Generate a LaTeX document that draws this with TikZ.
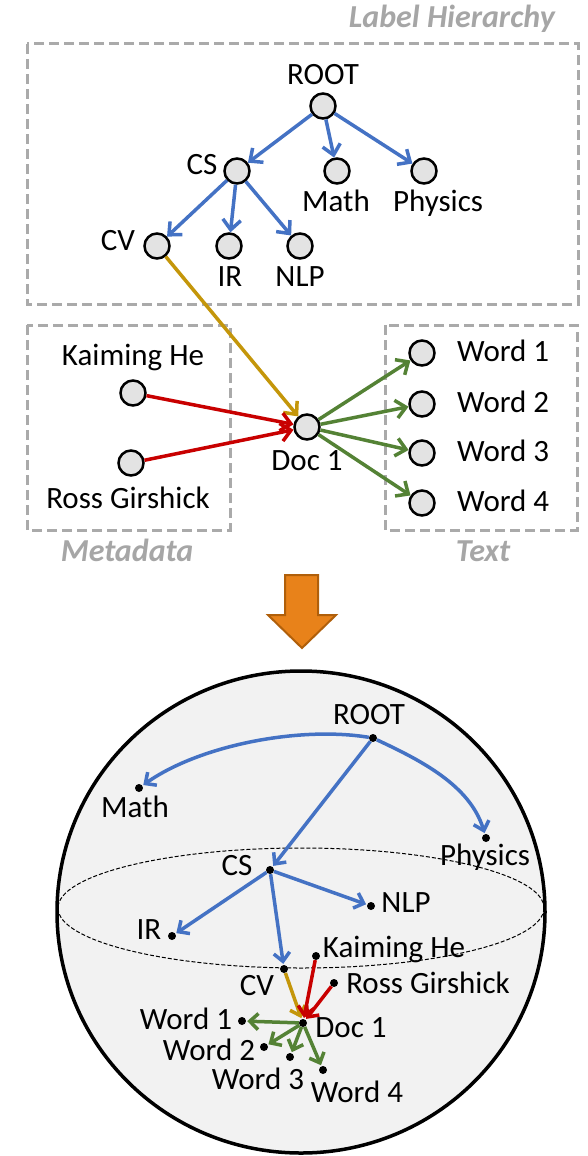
\documentclass[tikz,border=0pt]{standalone}
\usepackage{fontspec}
\setmainfont{Carlito}
\usetikzlibrary{arrows.meta}
\definecolor{boxgray}{RGB}{170,170,170}
\definecolor{lblgray}{RGB}{166,166,166}
\definecolor{nodefill}{RGB}{227,227,227}
\definecolor{eblue}{RGB}{68,114,196}
\definecolor{ered}{RGB}{200,0,0}
\definecolor{egreen}{RGB}{84,130,53}
\definecolor{egold}{RGB}{196,150,10}
\definecolor{orfill}{RGB}{232,130,26}
\definecolor{ordraw}{RGB}{176,95,10}
\definecolor{spherefill}{RGB}{242,242,242}
\begin{document}
\begin{tikzpicture}[x=1pt,y=-1pt,
  vert/.style={circle,draw=black,line width=2.5pt,fill=nodefill,minimum size=25pt,inner sep=0pt},
  pt/.style={circle,fill=black,minimum size=8pt,inner sep=0pt},
  lbl/.style={font=\fontsize{31}{31}\selectfont,inner sep=0pt,text height=0.64em,text depth=0pt,yshift=-5pt},
  ttl/.style={font=\fontsize{32}{32}\selectfont\bfseries\itshape,text=lblgray,inner sep=0pt,text height=0.64em,text depth=0pt,yshift=-5pt},
  grp/.style={draw=boxgray,line width=3pt,dash pattern=on 10pt off 5pt},
  arr/.style={line width=3.5pt,-{Straight Barb[length=10pt,width=18pt]}},
  sarr/.style={line width=3.5pt,-{Straight Barb[length=8.5pt,width=16pt]},shorten >=1pt}]
\useasboundingbox (0,0) rectangle (587,1156);

% ---------- top: graph ----------
\draw[grp] (27,44) rectangle (578,304);
\draw[grp] (27,325) rectangle (230,530);
\draw[grp] (385,325) rectangle (577,530);
\node[ttl,anchor=east] (tLH) at (555,19) {Label Hierarchy};
\node[ttl] (tMD) at (127,553) {Metadata};
\node[ttl] (tTX) at (483,553) {Text};

\node[vert] (root) at (323,106) {};
\node[vert] (cs) at (237,171) {};
\node[vert] (math) at (337,171) {};
\node[vert] (phys) at (424,171) {};
\node[vert] (cv) at (157,246) {};
\node[vert] (ir) at (229,246) {};
\node[vert] (nlp) at (300,246) {};
\node[lbl] (lroot) at (323,76) {ROOT};
\node[lbl] (lcs) at (202,166) {CS};
\node[lbl] (lmath) at (336,203) {Math};
\node[lbl] (lphys) at (438,203) {Physics};
\node[lbl] (lcv) at (118,242) {CV};
\node[lbl] (lir) at (230,278) {IR};
\node[lbl] (lnlp) at (300,278) {NLP};

\node[vert] (kai) at (133,393) {};
\node[vert] (ross) at (131,463) {};
\node[vert] (doc) at (307,427) {};
\node[lbl] (lkai) at (133,357) {Kaiming He};
\node[lbl] (lross) at (128,500) {Ross Girshick};
\node[lbl] (ldoc) at (307,462) {Doc 1};
\foreach \i/\y in {1/353,2/404,3/453,4/503}{
  \node[vert] (w\i) at (422,\y) {};
  \node[lbl,anchor=west] (lw\i) at (457,\y) {Word \i};
}

\draw[arr,eblue] (root) -- (cs);
\draw[arr,eblue] (root) -- (math);
\draw[arr,eblue] (root) -- (phys);
\draw[arr,eblue] (cs) -- (cv);
\draw[arr,eblue] (cs) -- (ir);
\draw[arr,eblue] (cs) -- (nlp);
\draw[arr,egold] (cv) -- (doc);
\draw[arr,ered] (kai) -- (doc);
\draw[arr,ered] (ross) -- (doc);
\foreach \i in {1,...,4}{\draw[arr,egreen] (doc) -- (w\i);}

% ---------- orange arrow ----------
\draw[fill=orfill,draw=ordraw,line width=2pt,line join=miter]
  (285,575) -- (318,575) -- (318,615) -- (336,615) -- (302,648) -- (268,615) -- (285,615) -- cycle;

% ---------- sphere ----------
\draw[fill=spherefill,line width=3.5pt] (301,912) ellipse [x radius=244, y radius=241];
\draw[line width=1pt,dash pattern=on 4pt off 2pt] (301,908) ellipse [x radius=243, y radius=60];

\node[pt] (sroot) at (373,738) {};
\node[pt] (smath) at (139,788) {};
\node[pt] (sphys) at (486,838) {};
\node[pt] (scs) at (270,870) {};
\node[pt] (snlp) at (371,906) {};
\node[pt] (sir) at (172,936) {};
\node[pt] (skai) at (316,956) {};
\node[pt] (scv) at (284,969) {};
\node[pt] (sross) at (334,983) {};
\node[pt] (sdoc) at (303,1023) {};
\node[pt] (sw1) at (242,1021) {};
\node[pt] (sw2) at (264,1047) {};
\node[pt] (sw3) at (290,1057) {};
\node[pt] (sw4) at (323,1070) {};

\draw[sarr,eblue] (sroot) .. controls (300,726) and (200,745) .. (smath);
\draw[sarr,eblue] (sroot) .. controls (420,760) and (470,785) .. (sphys);
\draw[sarr,eblue] (sroot) -- (scs);
\draw[sarr,eblue] (scs) -- (sir);
\draw[sarr,eblue] (scs) -- (snlp);
\draw[sarr,eblue] (scs) -- (scv);
\draw[sarr,egold] (scv) -- (sdoc);
\draw[sarr,ered] (skai) -- (sdoc);
\draw[sarr,ered] (sross) -- (sdoc);
\foreach \i in {1,...,4}{\draw[sarr,egreen] (sdoc) -- (sw\i);}

\node[lbl] (lsroot) at (369,716) {ROOT};
\node[lbl] (lsmath) at (135,809) {Math};
\node[lbl] (lsphys) at (485,857) {Physics};
\node[lbl] (lscs) at (237,867) {CS};
\node[lbl] (lsnlp) at (406,904) {NLP};
\node[lbl] (lsir) at (149,931) {IR};
\node[lbl] (lskai) at (394,949) {Kaiming He};
\node[lbl] (lscv) at (257,987) {CV};
\node[lbl] (lsross) at (428,985) {Ross Girshick};
\node[lbl] (lsdoc) at (351,1029) {Doc 1};
\node[lbl] (lsw1) at (186,1021) {Word 1};
\node[lbl] (lsw2) at (209,1052) {Word 2};
\node[lbl] (lsw3) at (258,1081) {Word 3};
\node[lbl] (lsw4) at (357,1094) {Word 4};
\end{tikzpicture}
\end{document}
